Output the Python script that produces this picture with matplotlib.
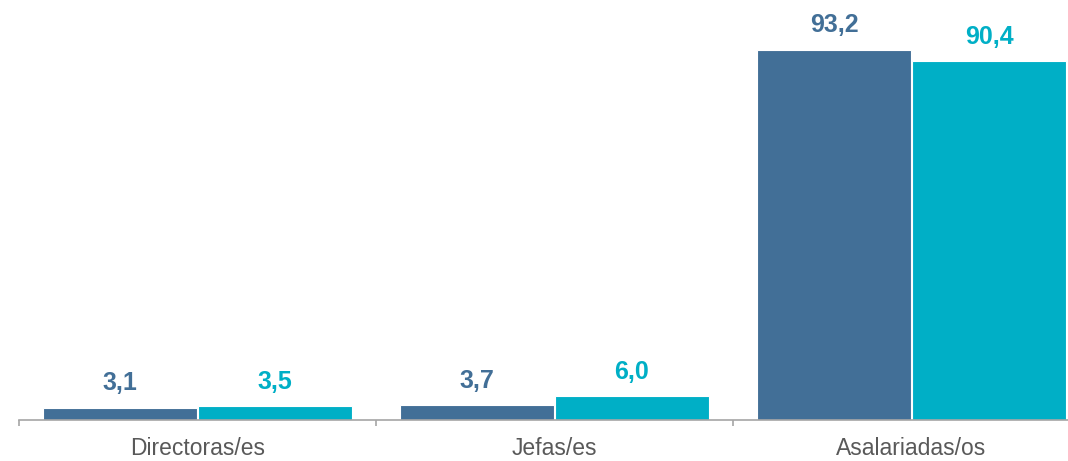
import numpy as np
import matplotlib
matplotlib.use("agg")
import matplotlib.pyplot as plt

plt.rcParams['font.family'] = ['Liberation Sans', 'DejaVu Sans']

# Data
categories = ["Directoras/es", "Jefas/es", "Asalariadas/os"]
serie_a = [3.1, 3.7, 93.2]
serie_b = [3.5, 6.0, 90.4]
labels_a = ["3,1", "3,7", "93,2"]
labels_b = ["3,5", "6,0", "90,4"]

color_a = "#426F97"
color_b = "#00AFC6"

fig = plt.figure(figsize=(10.68, 4.61), dpi=100)
# axes runs past the right edge so the last group sits flush with it
ax = fig.add_axes([19 / 1068, 41 / 461, 1049 / 1068, 420 / 461])

x = np.arange(len(categories))
width = 0.432
off = 0.217

bars_a = ax.bar(x - off, serie_a, width, color=color_a, edgecolor="white", linewidth=0.8)
bars_b = ax.bar(x + off, serie_b, width, color=color_b, edgecolor="white", linewidth=0.8)

for bars, labs, col in [(bars_a, labels_a, color_a), (bars_b, labels_b, color_b)]:
    for b, lab in zip(bars, labs):
        ax.annotate(lab, (b.get_x() + b.get_width() / 2, b.get_height()),
                    xytext=(0, 9), textcoords="offset points",
                    ha="center", va="bottom", fontsize=18, fontweight="bold", color=col)

for s in ["top", "right", "left"]:
    ax.spines[s].set_visible(False)
ax.spines["bottom"].set_color("#A6A6A6")
ax.spines["bottom"].set_linewidth(1.2)

ax.set_yticks([])
ax.set_xticks(x)
ax.set_xticklabels(categories, fontsize=16.5, color="#595959")
ax.tick_params(axis="x", which="major", length=0, pad=12)
ax.set_xticks(np.arange(-0.5, len(categories) + 0.5, 1), minor=True)
ax.tick_params(axis="x", which="minor", length=4.5, width=1.2, color="#A6A6A6")

# limits last, since set_xticks widens the view
ax.set_xlim(-0.5, -0.5 + 1049 / 357)
ax.set_ylim(0, 420 / 3.97)

plt.savefig("out.png", dpi=100)
